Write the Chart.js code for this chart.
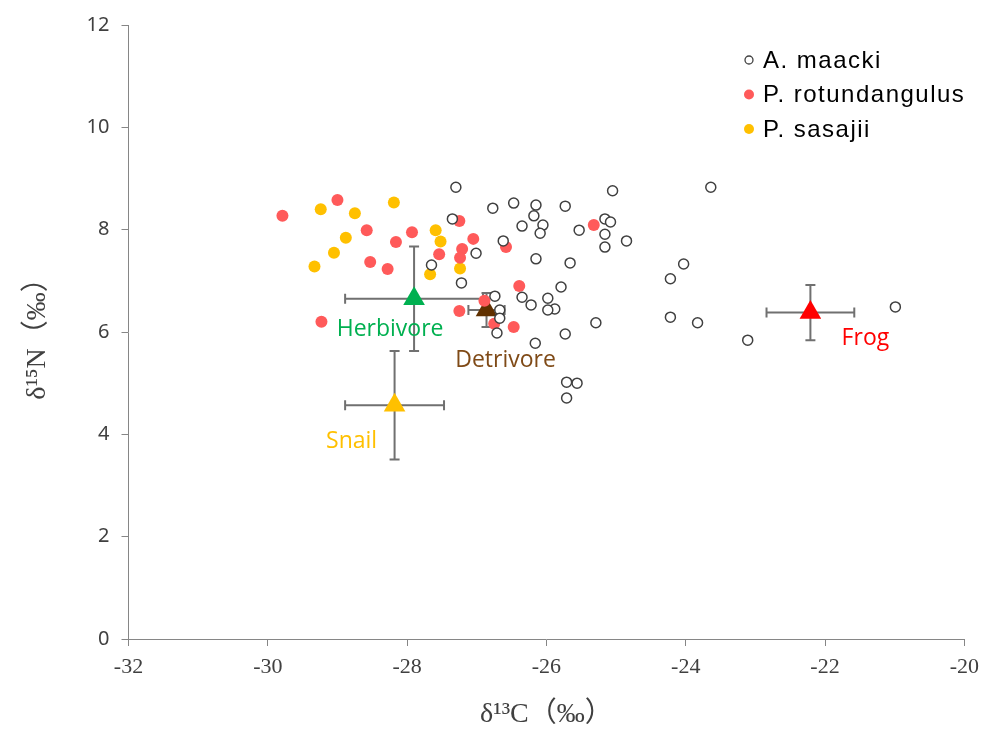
<!DOCTYPE html>
<html>
<head>
<meta charset="utf-8">
<script src="https://cdn.jsdelivr.net/npm/chart.js@4/dist/chart.umd.min.js"></script>
<style>
  body { margin: 0; background: #fff; }
  #wrap { width: 987px; height: 729px; }
</style>
</head>
<body>
<div id="wrap"><canvas id="myChart" width="987" height="729"></canvas></div>
<script>
// stable isotope values, d13C (x) and d15N (y)
var maackiX = [-27.30, -27.35, -27.65, -27.22, -27.01, -26.77, -26.47, -26.15, -26.18, -26.35,
               -26.05, -26.09, -26.62, -25.73, -25.53, -25.05, -25.16, -25.08, -25.16, -25.16,
               -24.85, -26.15, -25.66, -25.79, -26.35, -25.98, -26.22, -25.88, -25.98, -26.74,
               -26.67, -26.67, -26.71, -25.73, -26.16, -25.29, -25.71, -25.56, -25.71, -23.64,
               -24.03, -24.22, -24.22, -23.83, -23.11, -20.99];
var maackiY = [8.83, 8.21, 7.31, 6.96, 7.54, 8.42, 8.52, 8.48, 8.27, 8.07,
               8.09, 7.93, 7.78, 8.46, 7.99, 8.76, 8.21, 8.15, 7.91, 7.66,
               7.78, 7.43, 7.35, 6.88, 6.68, 6.66, 6.53, 6.45, 6.43, 6.70,
               6.43, 6.27, 5.98, 5.96, 5.78, 6.18, 5.02, 5.00, 4.71, 8.83,
               7.33, 7.04, 6.29, 6.18, 5.84, 6.49];

var rotX = [-29.79, -29.00, -28.58, -28.16, -28.53, -28.28, -29.23, -27.93, -27.25, -27.05,
            -27.21, -27.24, -27.54, -26.58, -26.39, -27.25, -26.89, -26.75, -26.47, -25.32];
var rotY = [8.27, 8.58, 7.99, 7.76, 7.37, 7.23, 6.20, 7.95, 8.17, 7.82,
            7.62, 7.45, 7.52, 7.66, 6.90, 6.41, 6.61, 6.16, 6.10, 8.09];

var sasX = [-29.24, -28.75, -28.19, -28.88, -29.05, -29.33, -27.59, -27.52, -27.67, -27.24];
var sasY = [8.40, 8.32, 8.53, 7.84, 7.55, 7.28, 7.99, 7.77, 7.13, 7.24];

// trophic group means with SD
var groupNames = ['Herbivore', 'Detrivore', 'Snail', 'Frog'];
var groupX = [-27.90, -26.86, -28.18, -22.21];
var groupY = [6.65, 6.43, 4.57, 6.38];
var groupSdX = [0.99, 0.26, 0.71, 0.63];
var groupSdY = [1.02, 0.33, 1.06, 0.54];

var xTicks = [-32, -30, -28, -26, -24, -22, -20];
var yTicks = [0, 2, 4, 6, 8, 10, 12];

var groupColors = ['#00B050', '#603000', '#FFC000', '#FF0000'];
var groupLabelColors = ['#00B050', '#7F4A17', '#FFC000', '#FF0000'];
var groupLabelOffset = [[-24, 31], [19, 50], [-43, 36], [55, 26]];

function toPoints(xs, ys) {
  return xs.map(function (x, i) { return { x: x, y: ys[i] }; });
}

var datasets = [
  {
    label: 'A. maacki',
    data: toPoints(maackiX, maackiY),
    pointStyle: 'circle',
    pointRadius: 5,
    pointBorderWidth: 1.5,
    pointBorderColor: '#404040',
    pointBackgroundColor: '#ffffff'
  },
  {
    label: 'P. rotundangulus',
    data: toPoints(rotX, rotY),
    pointRadius: 6,
    pointBorderWidth: 0,
    pointBackgroundColor: '#FF5A5A'
  },
  {
    label: 'P. sasajii',
    data: toPoints(sasX, sasY),
    pointRadius: 6,
    pointBorderWidth: 0,
    pointBackgroundColor: '#FFC000'
  }
];

groupNames.forEach(function (name, i) {
  datasets.push({
    label: name,
    data: [{ x: groupX[i], y: groupY[i] }],
    pointStyle: 'triangle',
    pointRadius: 12.5,
    pointBorderWidth: 0,
    pointBackgroundColor: groupColors[i],
    sdX: groupSdX[i],
    sdY: groupSdY[i],
    isGroup: true
  });
});

// error bars go under each group's triangle
var errorBars = {
  id: 'errorBars',
  beforeDatasetDraw: function (chart, args) {
    var ds = chart.data.datasets[args.index];
    if (!ds.isGroup) return;
    var xs = chart.scales.x, ys = chart.scales.y, ctx = chart.ctx;
    var p = ds.data[0];
    var cx = xs.getPixelForValue(p.x), cy = ys.getPixelForValue(p.y);
    var x0 = xs.getPixelForValue(p.x - ds.sdX), x1 = xs.getPixelForValue(p.x + ds.sdX);
    var y0 = ys.getPixelForValue(p.y + ds.sdY), y1 = ys.getPixelForValue(p.y - ds.sdY);
    var cap = 5;
    ctx.save();
    ctx.strokeStyle = '#707070';
    ctx.lineWidth = 2;
    ctx.beginPath();
    ctx.moveTo(x0, cy); ctx.lineTo(x1, cy);
    ctx.moveTo(x0, cy - cap); ctx.lineTo(x0, cy + cap);
    ctx.moveTo(x1, cy - cap); ctx.lineTo(x1, cy + cap);
    ctx.moveTo(cx, y0); ctx.lineTo(cx, y1);
    ctx.moveTo(cx - cap, y0); ctx.lineTo(cx + cap, y0);
    ctx.moveTo(cx - cap, y1); ctx.lineTo(cx + cap, y1);
    ctx.stroke();
    ctx.restore();
  }
};

// group names next to their markers, and the species legend
var annotations = {
  id: 'annotations',
  afterDraw: function (chart) {
    var ctx = chart.ctx, xs = chart.scales.x, ys = chart.scales.y;
    ctx.save();
    ctx.font = '23px "Open Sans", "Noto Sans", sans-serif';
    ctx.textAlign = 'center';
    ctx.textBaseline = 'middle';
    groupNames.forEach(function (name, i) {
      var px = xs.getPixelForValue(groupX[i]) + groupLabelOffset[i][0];
      var py = ys.getPixelForValue(groupY[i]) + groupLabelOffset[i][1];
      ctx.fillStyle = groupLabelColors[i];
      ctx.fillText(name, px, py);
    });

    ctx.font = '24px "Liberation Sans", Arial, sans-serif';
    ctx.letterSpacing = '1.5px';
    ctx.textAlign = 'left';
    var lx = 749, ly = 60, step = 34.5;
    for (var i = 0; i < 3; i++) {
      var ds = chart.data.datasets[i];
      var y = ly + i * step;
      ctx.beginPath();
      if (i === 0) {
        ctx.arc(lx, y, 4, 0, Math.PI * 2);
        ctx.fillStyle = '#fff';
        ctx.fill();
        ctx.lineWidth = 1.3;
        ctx.strokeStyle = '#404040';
        ctx.stroke();
      } else {
        ctx.arc(lx, y, 5, 0, Math.PI * 2);
        ctx.fillStyle = ds.pointBackgroundColor;
        ctx.fill();
      }
      ctx.fillStyle = '#000';
      ctx.fillText(ds.label, lx + 14, y + 1);
    }
    ctx.restore();
  }
};

var titleFont = { family: '"Liberation Serif", "Times New Roman", "Noto Sans CJK SC", serif', size: 28 };

var ctx = document.getElementById('myChart').getContext('2d');
var chart = new Chart(ctx, {
  type: 'scatter',
  data: { datasets: datasets },
  plugins: [errorBars, annotations],
  options: {
    responsive: false,
    animation: false,
    layout: { padding: { top: 25, right: 21, left: 0, bottom: 0 } },
    plugins: {
      legend: { display: false },
      tooltip: { enabled: false }
    },
    scales: {
      x: {
        type: 'linear',
        min: -32,
        max: -20,
        afterBuildTicks: function (scale) {
          scale.ticks = xTicks.map(function (v) { return { value: v }; });
        },
        afterFit: function (scale) { scale.height = 90; },
        border: { color: '#868686', width: 1 },
        grid: { drawOnChartArea: false, drawTicks: true, tickLength: 7, color: '#868686' },
        ticks: {
          padding: 8,
          color: '#404040',
          font: { family: '"Liberation Serif", "Times New Roman", serif', size: 22 }
        },
        title: {
          display: true,
          text: 'δ¹³C（‰）',
          color: '#404040',
          padding: { top: 0, bottom: -2 },
          font: titleFont
        }
      },
      y: {
        type: 'linear',
        min: 0,
        max: 12,
        afterBuildTicks: function (scale) {
          scale.ticks = yTicks.map(function (v) { return { value: v }; });
        },
        afterFit: function (scale) { scale.width = 128.5; },
        border: { color: '#868686', width: 1 },
        grid: { drawOnChartArea: false, drawTicks: true, tickLength: 7, color: '#868686' },
        ticks: {
          padding: 12,
          color: '#404040',
          font: { family: '"Noto Sans", "Open Sans", sans-serif', size: 20 }
        },
        title: {
          display: true,
          text: 'δ¹⁵N（‰）',
          color: '#404040',
          padding: { top: 21, bottom: 0 },
          font: titleFont
        }
      }
    }
  }
});
</script>
</body>
</html>
